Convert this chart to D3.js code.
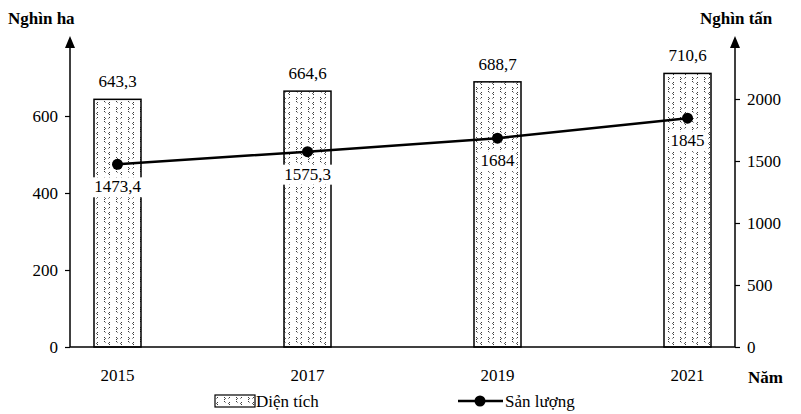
<!DOCTYPE html>
<html><head><meta charset="utf-8">
<script src="https://cdn.jsdelivr.net/npm/d3@7"></script>
<style>body{margin:0;background:#fff}</style></head>
<body><svg id="c" width="801" height="414"></svg>
<script>
const years=["2015","2017","2019","2021"];
const area=[643.3,664.6,688.7,710.6];
const output=[1473.4,1575.3,1684,1845];
const leftTicks=[0,200,400,600];
const rightTicks=[0,500,1000,1500,2000];
const fmt=v=>String(v).replace(".",",");
const svg=d3.select("#c");
const font="Liberation Serif, Times New Roman, serif";
const defs=svg.append("defs");
const pat=defs.append("pattern").attr("id","p").attr("patternUnits","userSpaceOnUse").attr("width",12).attr("height",10);
pat.append("rect").attr("width",12).attr("height",10).attr("fill","#fff");
pat.append("path").attr("d","M2 2 l-1.5 1.5 l1.5 1.5 M8 7 l1.5 1.5 l-1.5 1.5 M8 1 l1.5 1.5 M2 7 l-1.5 1.5").attr("stroke","#222").attr("stroke-width",0.9).attr("fill","none");
const x=d3.scalePoint().domain(years).range([70,735]).padding(0.25);
const yL=d3.scaleLinear().domain([0,600]).range([347,116]);
const yR=d3.scaleLinear().domain([0,2000]).range([347,99]);
const bw=47;
svg.selectAll(".bar").data(area).join("rect")
 .attr("x",(d,i)=>x(years[i])-bw/2).attr("y",d=>yL(d)).attr("width",bw).attr("height",d=>347-yL(d))
 .attr("fill","url(#p)").attr("stroke","#000").attr("stroke-width",1.5);
svg.selectAll(".bl").data(area).join("text").attr("x",(d,i)=>x(years[i])).attr("y",d=>yL(d)-12)
 .attr("text-anchor","middle").attr("font-family",font).attr("font-size",17).text(fmt);
// axes
const axL=svg.append("g").attr("transform","translate(70,0)").call(d3.axisLeft(yL).tickValues(leftTicks).tickSize(5).tickFormat(d=>d));
const axR=svg.append("g").attr("transform","translate(735,0)").call(d3.axisRight(yR).tickValues(rightTicks).tickSize(5).tickFormat(d=>d));
[axL,axR].forEach(a=>{a.select(".domain").remove();a.selectAll("text").attr("font-family",font).attr("font-size",17).attr("fill","#000");a.selectAll("line").attr("stroke-width",1.2);});
axL.selectAll("text").attr("dx",-4);axR.selectAll("text").attr("dx",4);
svg.append("line").attr("x1",70).attr("x2",70).attr("y1",347).attr("y2",42).attr("stroke","#000").attr("stroke-width",1.5);
svg.append("line").attr("x1",735).attr("x2",735).attr("y1",347).attr("y2",42).attr("stroke","#000").attr("stroke-width",1.5);
svg.append("path").attr("d","M65 48 L70 36 L75 48 Z M730 48 L735 36 L740 48 Z");
svg.append("line").attr("x1",70).attr("x2",735).attr("y1",347).attr("y2",347).attr("stroke","#000").attr("stroke-width",1.5);
svg.selectAll(".xt").data(years).join("text").attr("x",d=>x(d)).attr("y",381).attr("text-anchor","middle")
 .attr("font-family",font).attr("font-size",17).text(d=>d);
svg.append("text").attr("x",8).attr("y",24).attr("font-family",font).attr("font-weight","bold").attr("font-size",17).text("Nghìn ha");
svg.append("text").attr("x",700).attr("y",24).attr("font-family",font).attr("font-weight","bold").attr("font-size",17).text("Nghìn tấn");
svg.append("text").attr("x",748).attr("y",383).attr("font-family",font).attr("font-weight","bold").attr("font-size",17).text("Năm");
// line
const line=d3.line().x((d,i)=>x(years[i])).y(d=>yR(d));
svg.append("path").datum(output).attr("d",line).attr("fill","none").attr("stroke","#000").attr("stroke-width",2.5);
svg.selectAll(".pt").data(output).join("circle").attr("cx",(d,i)=>x(years[i])).attr("cy",d=>yR(d)).attr("r",5.5);
const lg=svg.selectAll(".ll").data(output).join("g").attr("transform",(d,i)=>`translate(${x(years[i])},${yR(d)+28})`);
lg.append("rect").attr("x",d=>-fmt(d).length*4.6).attr("y",-15).attr("width",d=>fmt(d).length*9.2).attr("height",20).attr("fill","#fff");
lg.append("text").attr("text-anchor","middle").attr("font-family",font).attr("font-size",17).text(fmt);
// legend
svg.append("rect").attr("x",215).attr("y",395).attr("width",40).attr("height",12).attr("fill","url(#p)").attr("stroke","#000").attr("stroke-width",1.2);
svg.append("text").attr("x",256).attr("y",407).attr("font-family",font).attr("font-size",17).text("Diện tích");
svg.append("line").attr("x1",458).attr("x2",503).attr("y1",401).attr("y2",401).attr("stroke","#000").attr("stroke-width",2.5);
svg.append("circle").attr("cx",480).attr("cy",401).attr("r",5.5);
svg.append("text").attr("x",505).attr("y",407).attr("font-family",font).attr("font-size",17).text("Sản lượng");
</script></body></html>
